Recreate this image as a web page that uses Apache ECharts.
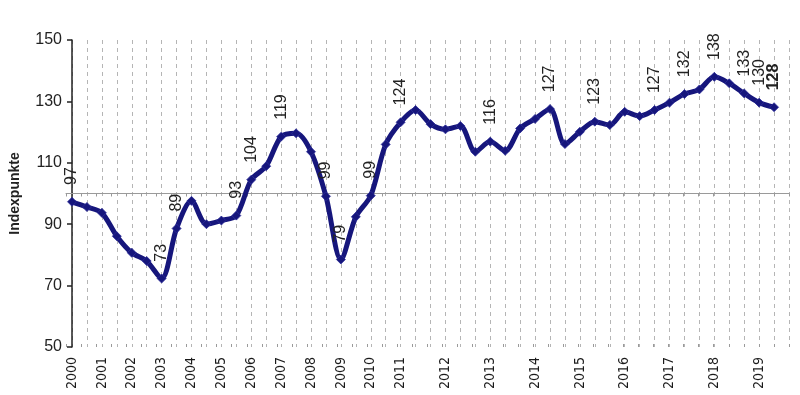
<!DOCTYPE html>
<html>
<head>
<meta charset="utf-8">
<script src="https://cdn.jsdelivr.net/npm/echarts@6/dist/echarts.min.js"></script>
<style>
html,body{margin:0;padding:0;background:#fff;}
#chart{width:800px;height:395px;}
</style>
</head>
<body>
<div id="chart"></div>
<script>
// Periods: half-years 2000-2010, thirds of a year 2011-2019 (last category left empty)
const periods = [
  '2000/1','2000/2','2001/1','2001/2','2002/1','2002/2','2003/1','2003/2','2004/1','2004/2',
  '2005/1','2005/2','2006/1','2006/2','2007/1','2007/2','2008/1','2008/2','2009/1','2009/2',
  '2010/1','2010/2',
  '2011/1','2011/2','2011/3','2012/1','2012/2','2012/3','2013/1','2013/2','2013/3',
  '2014/1','2014/2','2014/3','2015/1','2015/2','2015/3','2016/1','2016/2','2016/3',
  '2017/1','2017/2','2017/3','2018/1','2018/2','2018/3','2019/1','2019/2','2019/3'
];
const indexValues = [
  97.3, 95.6, 93.7, 86.1, 80.7, 78.0, 72.3, 88.6, 97.6, 90.0,
  91.2, 92.8, 104.5, 108.9, 118.5, 119.6, 113.6, 99.1, 78.5, 92.4,
  99.3, 116.0, 123.2, 127.2, 122.6, 120.9, 122.0, 113.6, 116.9, 113.9,
  121.2, 124.3, 127.5, 116.1, 120.1, 123.4, 122.3, 126.6, 125.2, 127.2,
  129.6, 132.4, 133.9, 138.0, 135.9, 132.6, 129.6, 128.1
];
// Annotated values (shown above the point), '' = no annotation
const pointLabels = [
  '97','','','','','','73','89','','',
  '','93','104','','119','','','99','79','',
  '99','','124','','','','','','116','',
  '','','127','','','123','','','','127',
  '','132','','138','','133','130','128'
];
const yTicks = { min: 50, max: 150, interval: 20 };
const refValue = 100;

const lineColor = '#16167c';
const fontFam = '"Liberation Sans", Arial, sans-serif';
const narrowFam = '"Liberation Sans Narrow", "Arial Narrow", "DejaVu Sans Condensed", sans-serif';

const lastIdx = indexValues.length - 1;
const seriesData = indexValues.map((v, i) => {
  const t = pointLabels[i];
  const item = { value: v };
  if (t) {
    item.label = {
      show: true,
      formatter: t,
      fontWeight: i === lastIdx ? 'bold' : 'normal'
    };
  }
  return item;
});

const plotTop = 40, plotBottom = 48, plotLeft = 66, plotRight = 11;
const plotH = 395 - plotTop - plotBottom;
const refY = plotTop + plotH * (yTicks.max - refValue) / (yTicks.max - yTicks.min);

const chart = echarts.init(document.getElementById('chart'), null, { renderer: 'canvas' });
chart.setOption({
  animation: false,
  backgroundColor: '#fff',
  grid: [
    { left: plotLeft, right: plotRight, top: plotTop, bottom: plotBottom },
    { left: plotLeft, right: plotRight, top: plotTop, height: refY - plotTop },
    { left: plotLeft, right: plotRight, top: refY, bottom: plotBottom }
  ],
  xAxis: [
    {
      gridIndex: 0,
      type: 'category',
      data: periods,
      boundaryGap: false,
      axisLine: { show: false },
      axisTick: { show: false },
      axisLabel: {
        interval: (idx, val) => val.endsWith('/1'),
        formatter: v => v.split('/')[0],
        rotate: 90,
        margin: 10,
        fontSize: 14,
        fontFamily: narrowFam,
        color: '#1a1a1a'
      },
      splitLine: {
        show: true,
        interval: 0,
        lineStyle: { color: '#b5b5b5', type: [4, 4], width: 1 }
      }
    },
    {
      gridIndex: 1,
      type: 'category',
      data: periods,
      boundaryGap: false,
      position: 'bottom',
      axisLine: { show: true, lineStyle: { color: '#9a9a9a', width: 1 } },
      axisTick: { show: true, interval: 0, length: 3, lineStyle: { color: '#9a9a9a' } },
      axisLabel: { show: false },
      splitLine: { show: false }
    },
    {
      gridIndex: 2,
      type: 'category',
      data: periods,
      boundaryGap: false,
      position: 'top',
      axisLine: { show: false },
      axisTick: { show: true, interval: 0, length: 3, lineStyle: { color: '#9a9a9a' } },
      axisLabel: { show: false },
      splitLine: { show: false }
    }
  ],
  yAxis: [
    {
      gridIndex: 0,
      type: 'value',
      min: yTicks.min,
      max: yTicks.max,
      interval: yTicks.interval,
      name: 'Indexpunkte',
      nameLocation: 'middle',
      nameGap: 50,
      nameRotate: 90,
      nameTextStyle: { fontSize: 14, fontWeight: 'bold', fontFamily: fontFam, color: '#222' },
      axisLine: { show: true, lineStyle: { color: '#222', width: 1.5 } },
      axisTick: { show: true, length: 5, lineStyle: { color: '#222', width: 1.5 } },
      axisLabel: { fontSize: 16, fontFamily: fontFam, color: '#222', margin: 10 },
      splitLine: { show: false }
    },
    { gridIndex: 1, type: 'value', show: false },
    { gridIndex: 2, type: 'value', show: false }
  ],
  series: [
    {
      type: 'line',
      xAxisIndex: 0,
      yAxisIndex: 0,
      data: seriesData,
      smooth: 0.3,
      symbol: 'diamond',
      symbolSize: 9,
      lineStyle: { color: lineColor, width: 5 },
      itemStyle: { color: lineColor, borderColor: '#2e2e9a', borderWidth: 0.8 },
      label: {
        show: false,
        position: 'top',
        distance: 12,
        rotate: 90,
        align: 'left',
        verticalAlign: 'middle',
        fontSize: 16,
        fontFamily: fontFam,
        color: '#222'
      },
      z: 5
    }
  ]
});
</script>
</body>
</html>
